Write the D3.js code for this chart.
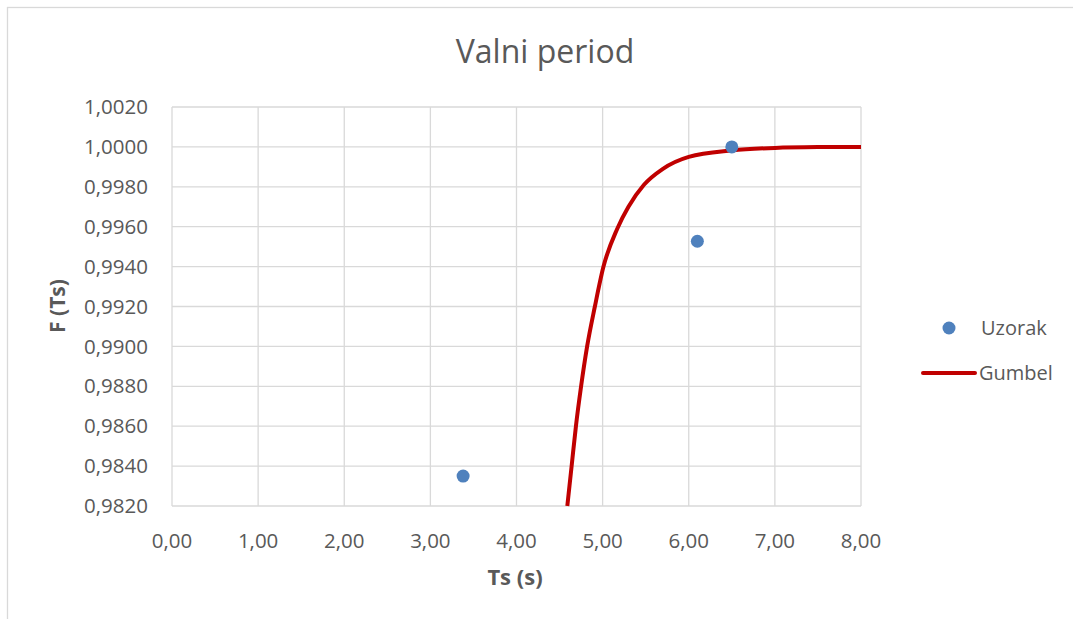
<!DOCTYPE html>
<html>
<head>
<meta charset="utf-8">
<script src="https://d3js.org/d3.v7.min.js"></script>
<style>
  body { margin: 0; background: #fff; }
  text { font-family: "Open Sans", "Liberation Sans", sans-serif; fill: #595959; }
</style>
</head>
<body>
<svg width="1073" height="619"></svg>
<script>
// sample points (Uzorak)
const sampleTs = [3.38, 6.10, 6.50];
const sampleF = [0.9835, 0.99527, 1.0000];
// Gumbel curve
const gumbelTs = [4.59, 4.64, 4.69, 4.75, 4.82, 4.91, 5.01, 5.17, 5.30, 5.48, 5.70, 6.00, 6.50, 7.00, 7.50, 8.00];
const gumbelF = [0.9820, 0.9840, 0.9860, 0.9880, 0.9900, 0.9920, 0.9940, 0.9959, 0.9970, 0.9981, 0.9989, 0.9995, 0.99982, 0.99995, 0.99999, 1.0000];
const xTicks = [0, 1, 2, 3, 4, 5, 6, 7, 8];
const yTicks = [0.982, 0.984, 0.986, 0.988, 0.990, 0.992, 0.994, 0.996, 0.998, 1.000, 1.002];

const svg = d3.select("svg");
const fmt2 = d => d.toFixed(2).replace(".", ",");
const fmt4 = d => d.toFixed(4).replace(".", ",");

// chart frame
svg.append("rect").attr("x", 7.5).attr("y", 7.5).attr("width", 1080).attr("height", 640)
   .attr("fill", "#fff").attr("stroke", "#d9d9d9").attr("stroke-width", 1.3);

const x = d3.scaleLinear().domain([0, 8]).range([172, 861]);
const y = d3.scaleLinear().domain([0.982, 1.002]).range([506, 107]);

// grid
svg.append("g").selectAll("line").data(xTicks).join("line")
   .attr("x1", d => x(d)).attr("x2", d => x(d)).attr("y1", y(1.002)).attr("y2", y(0.982))
   .attr("stroke", "#d9d9d9").attr("stroke-width", 1.3);
svg.append("g").selectAll("line").data(yTicks).join("line")
   .attr("x1", x(0)).attr("x2", x(8)).attr("y1", d => y(d)).attr("y2", d => y(d))
   .attr("stroke", "#d9d9d9").attr("stroke-width", 1.3);

// tick labels
svg.append("g").selectAll("text").data(yTicks).join("text")
   .attr("x", 148).attr("y", d => y(d)).attr("dy", "0.35em")
   .attr("text-anchor", "end").attr("font-size", 20.5).text(fmt4);
svg.append("g").selectAll("text").data(xTicks).join("text")
   .attr("x", d => x(d)).attr("y", 541).attr("dy", "0.35em")
   .attr("text-anchor", "middle").attr("font-size", 20.5).text(fmt2);

// titles
svg.append("text").attr("x", 545).attr("y", 52).attr("dy", "0.35em")
   .attr("text-anchor", "middle").attr("font-size", 32).text("Valni period");
svg.append("text").attr("x", 515).attr("y", 577).attr("dy", "0.35em")
   .attr("text-anchor", "middle").attr("font-size", 22).attr("font-weight", "bold").text("Ts (s)");
svg.append("text").attr("transform", "translate(58,306) rotate(-90)").attr("dy", "0.35em")
   .attr("text-anchor", "middle").attr("font-size", 21).attr("font-weight", "bold").text("F (Ts)");

// Gumbel line
const gumbel = gumbelTs.map((t, i) => [t, gumbelF[i]]);
svg.append("path").datum(gumbel)
   .attr("fill", "none").attr("stroke", "#c00000").attr("stroke-width", 4)
   .attr("d", d3.line().x(d => x(d[0])).y(d => y(d[1])).curve(d3.curveMonotoneX));

// sample points
svg.append("g").selectAll("circle").data(sampleTs).join("circle")
   .attr("cx", d => x(d)).attr("cy", (d, i) => y(sampleF[i])).attr("r", 6.5)
   .attr("fill", "#4f81bd");

// legend
svg.append("circle").attr("cx", 949).attr("cy", 328).attr("r", 6.5).attr("fill", "#4f81bd");
svg.append("text").attr("x", 981).attr("y", 328).attr("dy", "0.35em").attr("font-size", 20).text("Uzorak");
svg.append("line").attr("x1", 923).attr("x2", 975).attr("y1", 373).attr("y2", 373)
   .attr("stroke", "#c00000").attr("stroke-width", 4).attr("stroke-linecap", "round");
svg.append("text").attr("x", 979).attr("y", 373).attr("dy", "0.35em").attr("font-size", 20).text("Gumbel");
</script>
</body>
</html>
